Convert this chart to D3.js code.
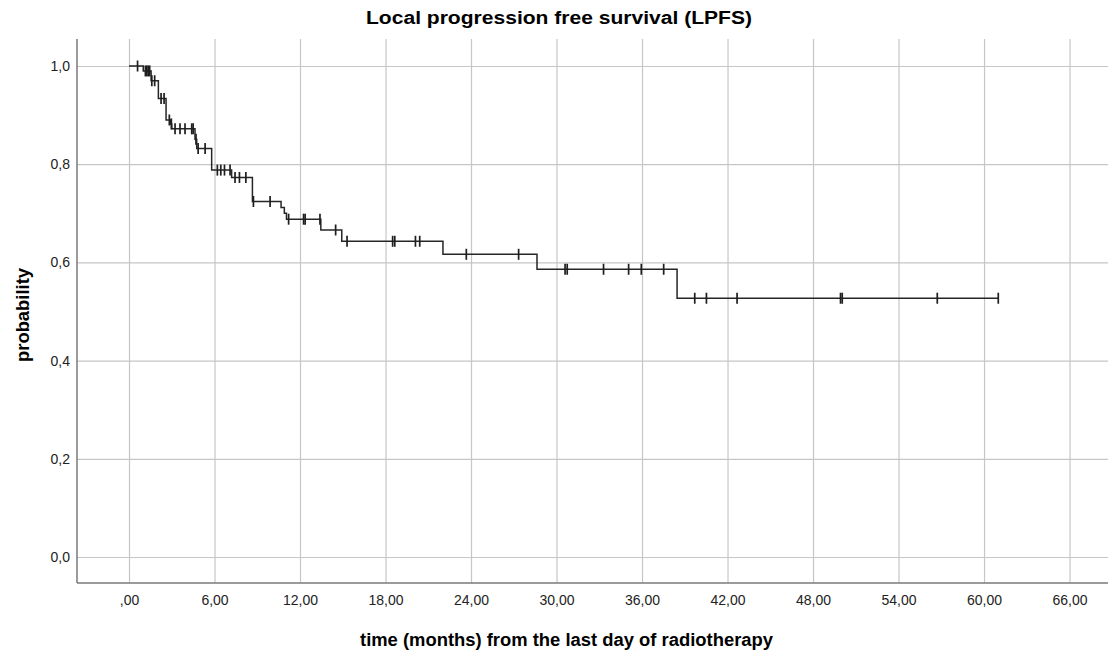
<!DOCTYPE html>
<html>
<head>
<meta charset="utf-8">
<script src="https://cdn.jsdelivr.net/npm/d3@7"></script>
<style>
  body { margin: 0; background: #fff; }
  svg { font-family: "Liberation Sans", Arial, sans-serif; }
  .grid line { stroke: #c6c6c6; stroke-width: 1.2; }
  .grid path { display: none; }
  .axis path, .axis line { display: none; }
  .axis text { font-size: 14px; fill: #222; }
</style>
</head>
<body>
<script>
// Kaplan-Meier step data: event times (months) and survival after each event
var eventTimes = [1.0, 1.55, 2.06, 2.6, 2.9, 3.0, 4.63, 4.75, 5.8, 7.2, 8.66, 10.67, 10.9, 11.05, 13.46, 14.93, 22.03, 28.63, 38.46];
var survival   = [0.99, 0.97, 0.934, 0.89, 0.882, 0.872, 0.851, 0.832, 0.788, 0.773, 0.724, 0.712, 0.700, 0.688, 0.666, 0.643, 0.6165, 0.586, 0.527];
// censored observations (months)
var censorTimes = [0.6, 1.15, 1.25, 1.35, 1.45, 1.6, 1.8, 2.25, 2.46, 2.83, 2.97, 3.23, 3.58, 3.93, 4.4, 4.5, 4.7,
                   4.85, 5.34, 6.2, 6.44, 6.7, 7.09, 7.44, 7.75, 8.2, 8.73, 9.9, 11.2, 12.25, 12.36, 13.4, 14.5, 15.3,
                   18.5, 18.65, 20.1, 20.4, 23.67, 27.34, 30.6, 30.75, 33.3, 35.06, 35.95, 37.52, 39.7, 40.52, 42.67,
                   49.93, 50.05, 56.72, 61.0];
var lastTime = 61.0;

var xTicks = [0, 6, 12, 18, 24, 30, 36, 42, 48, 54, 60, 66];
var xTickLabels = [",00", "6,00", "12,00", "18,00", "24,00", "30,00", "36,00", "42,00", "48,00", "54,00", "60,00", "66,00"];
var yTicks = [0, 0.2, 0.4, 0.6, 0.8, 1.0];
var yTickLabels = ["0,0", "0,2", "0,4", "0,6", "0,8", "1,0"];

var width = 1110, height = 650;
var plotLeft = 77, plotRight = 1108, plotTop = 39, plotBottom = 583;

var svg = d3.select("body").append("svg")
    .attr("width", width)
    .attr("height", height);

var x = d3.scaleLinear()
    .domain([-3.65, 68.7])
    .range([plotLeft, plotRight]);

var y = d3.scaleLinear()
    .domain([-0.053, 1.055])
    .range([plotBottom, plotTop]);

// grid lines
svg.append("g")
    .attr("class", "grid")
    .attr("transform", "translate(0," + plotBottom + ")")
    .call(d3.axisBottom(x).tickValues(xTicks).tickSize(-(plotBottom - plotTop)).tickFormat(""));

svg.append("g")
    .attr("class", "grid")
    .attr("transform", "translate(" + plotLeft + ",0)")
    .call(d3.axisLeft(y).tickValues(yTicks).tickSize(-(plotRight - plotLeft)).tickFormat(""));

// axis lines
svg.append("line")
    .attr("x1", plotLeft).attr("x2", plotLeft)
    .attr("y1", plotTop).attr("y2", plotBottom)
    .attr("stroke", "#7a7a7a").attr("stroke-width", 1.5);
svg.append("line")
    .attr("x1", plotLeft).attr("x2", plotRight)
    .attr("y1", plotBottom).attr("y2", plotBottom)
    .attr("stroke", "#7a7a7a").attr("stroke-width", 1.5);

// tick labels
svg.append("g")
    .attr("class", "axis")
    .attr("transform", "translate(0," + plotBottom + ")")
    .call(d3.axisBottom(x).tickValues(xTicks).tickSize(0).tickPadding(12)
        .tickFormat(function(d, i) { return xTickLabels[i]; }));

svg.append("g")
    .attr("class", "axis")
    .attr("transform", "translate(" + plotLeft + ",0)")
    .call(d3.axisLeft(y).tickValues(yTicks).tickSize(0).tickPadding(7)
        .tickFormat(function(d, i) { return yTickLabels[i]; }));

// survival curve
function surv(t) {
    var s = 1;
    for (var i = 0; i < eventTimes.length; i++) {
        if (eventTimes[i] <= t) s = survival[i];
    }
    return s;
}

var pts = [[0, 1]];
eventTimes.forEach(function(t, i) { pts.push([t, survival[i]]); });
pts.push([lastTime, survival[survival.length - 1]]);

var line = d3.line()
    .x(function(d) { return x(d[0]); })
    .y(function(d) { return y(d[1]); })
    .curve(d3.curveStepAfter);

svg.append("path")
    .datum(pts)
    .attr("fill", "none")
    .attr("stroke", "#262626")
    .attr("stroke-width", 1.5)
    .attr("d", line);

// censor marks
svg.selectAll(".censor")
    .data(censorTimes)
    .enter().append("line")
    .attr("class", "censor")
    .attr("x1", function(d) { return x(d); })
    .attr("x2", function(d) { return x(d); })
    .attr("y1", function(d) { return y(surv(d)) - 5.5; })
    .attr("y2", function(d) { return y(surv(d)) + 5.5; })
    .attr("stroke", "#1e1e1e")
    .attr("stroke-width", 1.7);

// title
svg.append("text")
    .attr("x", 366)
    .attr("y", 24)
    .attr("textLength", 386)
    .attr("lengthAdjust", "spacingAndGlyphs")
    .style("font-size", "18px")
    .style("font-weight", "bold")
    .text("Local progression free survival (LPFS)");

// axis titles
svg.append("text")
    .attr("x", 360)
    .attr("y", 646)
    .attr("textLength", 413)
    .attr("lengthAdjust", "spacingAndGlyphs")
    .style("font-size", "17.5px")
    .style("font-weight", "bold")
    .text("time (months) from the last day of radiotherapy");

svg.append("text")
    .attr("transform", "translate(29,268) rotate(-90)")
    .attr("text-anchor", "end")
    .attr("textLength", 94)
    .attr("lengthAdjust", "spacingAndGlyphs")
    .style("font-size", "17.5px")
    .style("font-weight", "bold")
    .text("probability");
</script>
</body>
</html>
